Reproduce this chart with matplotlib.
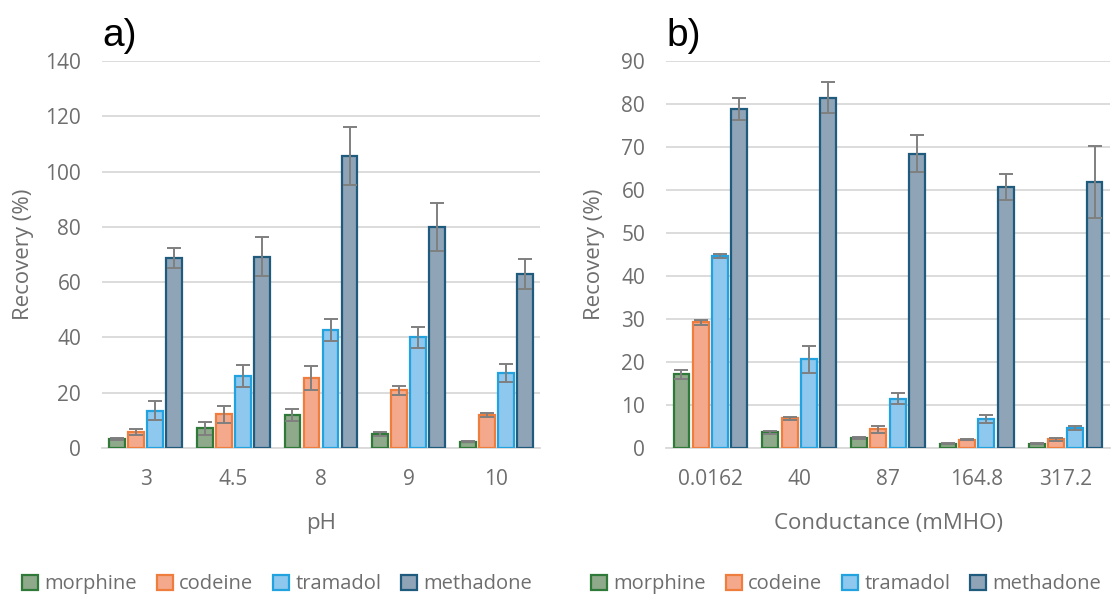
import numpy as np
import matplotlib
matplotlib.use("Agg")
import matplotlib.pyplot as plt
from matplotlib.patches import Patch

plt.rcParams['font.family'] = ['Open Sans', 'DejaVu Sans']

drugs = ['morphine', 'codeine', 'tramadol', 'methadone']

# panel a: pH
ph_labels = ['3', '4.5', '8', '9', '10']
ph_morphine = [3.2, 7.1, 11.8, 5.2, 2.3]
ph_codeine = [5.8, 12.2, 25.4, 20.9, 11.8]
ph_tramadol = [13.5, 26.0, 42.8, 40.0, 27.0]
ph_methadone = [68.7, 69.2, 105.7, 80.0, 62.9]
ph_morphine_err = [0.3, 2.3, 2.2, 0.7, 0.2]
ph_codeine_err = [1.0, 3.1, 4.4, 1.7, 0.7]
ph_tramadol_err = [3.5, 3.9, 4.0, 3.9, 3.3]
ph_methadone_err = [3.5, 7.0, 10.4, 8.6, 5.5]

# panel b: conductance
cond_labels = ['0.0162', '40', '87', '164.8', '317.2']
cond_morphine = [17.1, 3.65, 2.3, 1.0, 1.0]
cond_codeine = [29.2, 6.9, 4.4, 1.95, 2.0]
cond_tramadol = [44.7, 20.6, 11.5, 6.7, 4.7]
cond_methadone = [78.9, 81.5, 68.4, 60.7, 61.8]
cond_morphine_err = [1.0, 0.3, 0.3, 0.1, 0.1]
cond_codeine_err = [0.5, 0.4, 0.8, 0.2, 0.3]
cond_tramadol_err = [0.4, 3.1, 1.3, 0.9, 0.5]
cond_methadone_err = [2.6, 3.6, 4.3, 3.1, 8.4]

faces = ['#8fa98b', '#f4a98c', '#8ec8ee', '#8fa4b7']
edges = ['#2f7a38', '#ee7d3e', '#22a3df', '#1f5b7c']
grey = '#7f7f7f'
grid_c = '#d9d9d9'
txt_c = '#6e6e6e'


def draw_panel(ax, labels, series, errs, ymax, step, xlabel, tag, ylab_x):
    x = np.arange(len(labels))
    width = 0.18
    gap = 0.217
    for i in range(4):
        pos = x + (i - 1.5) * gap
        ax.bar(pos, series[i], width, color=faces[i], edgecolor=edges[i],
               linewidth=1.6, zorder=3)
        ax.errorbar(pos, series[i], yerr=errs[i], fmt='none', ecolor=grey,
                    elinewidth=1.4, capsize=5, capthick=1.4, zorder=4)
    ax.set_xlim(-0.5, len(labels) - 0.5)
    ax.set_ylim(0, ymax)
    ax.set_yticks(np.arange(0, ymax + 1, step))
    ax.set_xticks(x)
    ax.set_xticklabels(labels)
    ax.yaxis.grid(True, color=grid_c, linewidth=1.3, zorder=0)
    ax.set_axisbelow(True)
    for s in ['top', 'right', 'left']:
        ax.spines[s].set_visible(False)
    ax.spines['bottom'].set_color(grid_c)
    ax.spines['bottom'].set_linewidth(1.3)
    ax.tick_params(axis='both', length=0, labelsize=15, colors=txt_c)
    ax.tick_params(axis='x', pad=15)
    ax.tick_params(axis='y', pad=15)
    ax.set_xlabel(xlabel, fontsize=16, color=txt_c)
    ax.set_ylabel('Recovery (%)', fontsize=16, color=txt_c)
    ax.xaxis.set_label_coords(0.5, -0.168)
    ax.yaxis.set_label_coords(ylab_x, 0.5)
    ax.text(0.0, 1.065, tag, transform=ax.transAxes, fontsize=28,
            family=['Liberation Sans', 'DejaVu Sans'], color='black',
            va='center', ha='left')


fig = plt.figure(figsize=(11.11, 5.94), dpi=100)
ax1 = fig.add_axes([102 / 1111, 146 / 594, 438 / 1111, 387 / 594])
ax2 = fig.add_axes([666 / 1111, 146 / 594, 444 / 1111, 387 / 594])

draw_panel(ax1, ph_labels,
           [ph_morphine, ph_codeine, ph_tramadol, ph_methadone],
           [ph_morphine_err, ph_codeine_err, ph_tramadol_err, ph_methadone_err],
           140, 20, 'pH', 'a)', -0.155)
draw_panel(ax2, cond_labels,
           [cond_morphine, cond_codeine, cond_tramadol, cond_methadone],
           [cond_morphine_err, cond_codeine_err, cond_tramadol_err, cond_methadone_err],
           90, 10, 'Conductance (mMHO)', 'b)', -0.138)

handles = [Patch(facecolor=faces[i], edgecolor=edges[i], linewidth=1.6)
           for i in range(4)]
for cx in [277 / 1111, 846 / 1111]:
    fig.legend(handles, drugs, loc='center', bbox_to_anchor=(cx, 0.016),
               ncol=4, frameon=False, fontsize=14.5, labelcolor=txt_c,
               handlelength=0.8, handleheight=0.8, handletextpad=0.3,
               columnspacing=1.0, borderaxespad=0)

fig.savefig('out.png', dpi=100)
